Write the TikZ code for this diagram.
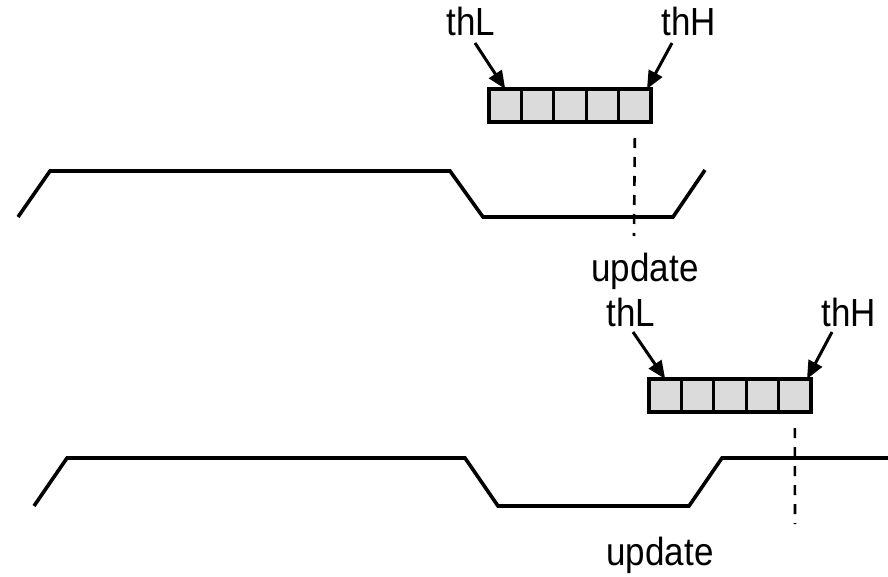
\documentclass[tikz,border=0pt]{standalone}
\usepackage{fontspec}
\setmainfont{Liberation Sans}
\usetikzlibrary{arrows.meta,calc}
\begin{document}
\begin{tikzpicture}[x=1pt,y=-1pt,
  lbl/.style={anchor=base,inner sep=0pt,font=\fontsize{35}{42}\selectfont},
  cell/.style={draw=black,line width=3.2pt,fill=black!14,minimum width=32.4pt,minimum height=33pt,inner sep=0pt,outer sep=0pt},
  wave/.style={line width=3.6pt,line join=miter},
  arr/.style={line width=3pt,-{Triangle[length=18pt,width=15pt]}},
  vdash/.style={line width=2.6pt,dash pattern=on 10pt off 9pt}]
\useasboundingbox (0,0) rectangle (888,577);
% ---------- top ----------
\foreach \i in {1,...,5}{
  \node[cell] (a\i) at ({489+16.2+(\i-1)*32.4},105.5) {};
}
\node[lbl] (aL) at (471,36) {\scalebox{1}[1.12]{thL}};
\node[lbl] (aH) at (689,36) {\scalebox{1}[1.12]{thH}};
\node[lbl] (aU) at (645,281) {\scalebox{1}[1.12]{update}};
\coordinate (aLs) at (475,43);
\coordinate (aHs) at (672,43);
\draw[arr] (aLs) -- (a1.north);
\draw[arr] (aHs) -- ([xshift=-4pt]a5.north east);
\coordinate (aDe) at (634,236);
\draw[vdash] ([yshift=-16pt]a5.south) -- (aDe);
\draw[wave] (18,217) -- (50,171) -- (450,171) -- (483,217) -- (673,217) -- (705,170);
% ---------- bottom ----------
\foreach \i in {1,...,5}{
  \node[cell] (b\i) at ({649+16.2+(\i-1)*32.4},395.5) {};
}
\node[lbl] (bL) at (631,326) {\scalebox{1}[1.12]{thL}};
\node[lbl] (bH) at (849,326) {\scalebox{1}[1.12]{thH}};
\node[lbl] (bU) at (660,565) {\scalebox{1}[1.12]{update}};
\coordinate (bLs) at (633,332);
\coordinate (bHs) at (832,332);
\draw[arr] (bLs) -- (b1.north);
\draw[arr] (bHs) -- ([xshift=-4pt]b5.north east);
\coordinate (bDe) at (795,524);
\draw[vdash] ([yshift=-16pt]b5.south) -- (bDe);
\draw[wave] (34,506) -- (67,458) -- (465,458) -- (498,506) -- (689,506) -- (722,458) -- (888,458);
\end{tikzpicture}
\end{document}
